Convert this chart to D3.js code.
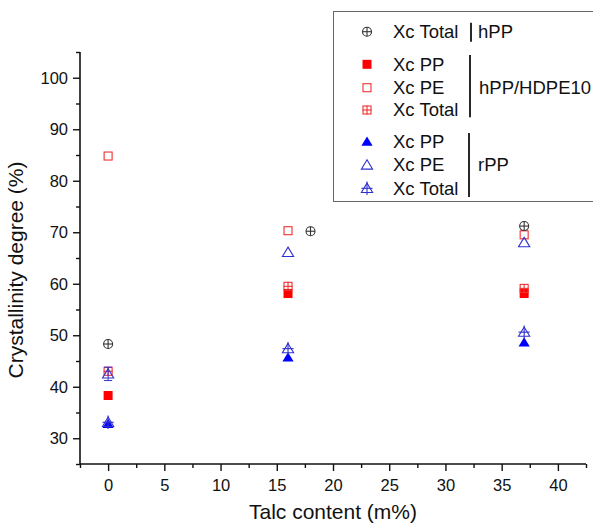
<!DOCTYPE html>
<html>
<head>
<meta charset="utf-8">
<script src="https://cdn.jsdelivr.net/npm/d3@7"></script>
<style>
  html, body { margin: 0; padding: 0; background: #fff; }
  svg { display: block; font-family: "Liberation Sans", Arial, sans-serif; }
</style>
</head>
<body>
<svg id="chart" width="593" height="528"></svg>
<script>
// ---- data ----
const talcX = [0, 16, 37];
const hppX = [0, 18, 37];
const hppTotal = [48.3, 70.2, 71.2];
const blendPP = [38.3, 58.1, 58.1];
const blendPE = [84.8, 70.3, 69.5];
const blendTotal = [43.0, 59.5, 59.1];
const rppPP = [32.8, 45.7, 48.6];
const rppPE = [42.5, 66.1, 68.0];
const rppPEerr = [1.3, 0, 0];
const rppTotal = [33.1, 47.4, 50.6];
const xTicks = [0, 5, 10, 15, 20, 25, 30, 35, 40];
const yTicks = [30, 40, 50, 60, 70, 80, 90, 100];

const legendRows = [
  { label: "Xc Total", sym: "circlePlus", color: "#333" },
  { label: "Xc PP", sym: "squareFill", color: "#ff0000" },
  { label: "Xc PE", sym: "squareOpen", color: "#f03030" },
  { label: "Xc Total", sym: "squarePlus", color: "#f03030" },
  { label: "Xc PP", sym: "triFill", color: "#0000ff" },
  { label: "Xc PE", sym: "triOpen", color: "#3030d0" },
  { label: "Xc Total", sym: "triPlus", color: "#3030d0" }
];
const groupLabels = ["hPP", "hPP/HDPE10", "rPP"];

// ---- layout ----
const svg = d3.select("#chart");
const mLeft = 80, mRight = 586, mTop = 52, mBottom = 464;
const x = d3.scaleLinear().domain([-2.5, 42.5]).range([mLeft, mRight]);
const y = d3.scaleLinear().domain([25, 105]).range([mBottom, mTop]);

// axes
const xAxis = d3.axisBottom(x).tickValues(xTicks).tickSize(7).tickPadding(8).tickFormat(d3.format("d"));
const xMinor = d3.axisBottom(x).tickValues(d3.range(-2.5, 43, 5)).tickSize(4).tickFormat("");
const yAxis = d3.axisLeft(y).tickValues(yTicks).tickSize(7).tickPadding(5).tickFormat(d3.format("d"));
const yMinor = d3.axisLeft(y).tickValues(d3.range(25, 106, 10)).tickSize(4).tickFormat("");

function styleAxis(g) {
  g.select(".domain").remove();
  g.selectAll(".tick line").attr("stroke", "#111").attr("stroke-width", 1.4);
  g.selectAll(".tick text").attr("fill", "#111").style("font-size", "16.5px").style("font-family", '"Liberation Sans", Arial, sans-serif');
}
svg.append("g").attr("transform", `translate(0,${mBottom})`).call(xMinor).call(styleAxis);
svg.append("g").attr("transform", `translate(0,${mBottom})`).call(xAxis).call(styleAxis);
svg.append("g").attr("transform", `translate(${mLeft},0)`).call(yMinor).call(styleAxis);
svg.append("g").attr("transform", `translate(${mLeft},0)`).call(yAxis).call(styleAxis);
svg.append("line").attr("x1", mLeft).attr("x2", mRight).attr("y1", mBottom).attr("y2", mBottom).attr("stroke", "#111").attr("stroke-width", 1.6);
svg.append("line").attr("x1", mLeft).attr("x2", mLeft).attr("y1", mTop).attr("y2", mBottom).attr("stroke", "#111").attr("stroke-width", 1.6);

// axis titles
svg.append("text").attr("x", (mLeft + mRight) / 2).attr("y", 519).attr("text-anchor", "middle")
  .style("font-size", "21px").attr("fill", "#111").text("Talc content (m%)");
svg.append("text").attr("transform", `translate(23,270) rotate(-90)`).attr("text-anchor", "middle")
  .style("font-size", "21px").attr("fill", "#111").text("Crystallinity degree (%)");

// ---- symbols ----
function drawSymbol(g, sym, color, cx, cy) {
  const s = 4.5;
  const sw = 1.1;
  if (sym === "circlePlus") {
    g.append("circle").attr("cx", cx).attr("cy", cy).attr("r", s).attr("fill", "none").attr("stroke", color).attr("stroke-width", sw);
    g.append("line").attr("x1", cx - s).attr("x2", cx + s).attr("y1", cy).attr("y2", cy).attr("stroke", color).attr("stroke-width", sw);
    g.append("line").attr("x1", cx).attr("x2", cx).attr("y1", cy - s).attr("y2", cy + s).attr("stroke", color).attr("stroke-width", sw);
  } else if (sym === "squareFill") {
    g.append("rect").attr("x", cx - s).attr("y", cy - s).attr("width", 2 * s).attr("height", 2 * s).attr("fill", color);
  } else if (sym === "squareOpen" || sym === "squarePlus") {
    g.append("rect").attr("x", cx - s + 0.5).attr("y", cy - s + 0.5).attr("width", 2 * s - 1).attr("height", 2 * s - 1)
      .attr("fill", "none").attr("stroke", color).attr("stroke-width", sw);
    if (sym === "squarePlus") {
      g.append("line").attr("x1", cx - s).attr("x2", cx + s).attr("y1", cy).attr("y2", cy).attr("stroke", color).attr("stroke-width", sw);
      g.append("line").attr("x1", cx).attr("x2", cx).attr("y1", cy - s).attr("y2", cy + s).attr("stroke", color).attr("stroke-width", sw);
    }
  } else {
    const h = 5.2, w = 5.6;
    const pts = [[cx, cy - h], [cx + w, cy + h * 0.8], [cx - w, cy + h * 0.8]];
    const path = "M" + pts.map(p => p.join(",")).join("L") + "Z";
    if (sym === "triFill") {
      g.append("path").attr("d", path).attr("fill", color);
    } else {
      g.append("path").attr("d", path).attr("fill", "none").attr("stroke", color).attr("stroke-width", sw);
      if (sym === "triPlus") {
        g.append("line").attr("x1", cx).attr("x2", cx).attr("y1", cy - h - 1.5).attr("y2", cy + h + 1.5).attr("stroke", color).attr("stroke-width", sw);
        g.append("line").attr("x1", cx - w).attr("x2", cx + w).attr("y1", cy).attr("y2", cy).attr("stroke", color).attr("stroke-width", sw);
      }
    }
  }
}

const marks = svg.append("g");
function series(xs, ys, sym, color, errs) {
  xs.forEach((xv, i) => {
    if (errs && errs[i] > 0) {
      const cx = x(xv);
      const y1 = y(ys[i] - errs[i]), y2 = y(ys[i] + errs[i]);
      marks.append("line").attr("x1", cx).attr("x2", cx).attr("y1", y1).attr("y2", y2).attr("stroke", color).attr("stroke-width", 1);
      [y1, y2].forEach(yy => marks.append("line").attr("x1", cx - 4).attr("x2", cx + 4).attr("y1", yy).attr("y2", yy).attr("stroke", color).attr("stroke-width", 1));
    }
    drawSymbol(marks, sym, color, x(xv), y(ys[i]));
  });
}
series(talcX, blendPP, "squareFill", "#ff0000");
series(talcX, rppPP, "triFill", "#0000ff");
series(talcX, blendTotal, "squarePlus", "#f03030");
series(talcX, blendPE, "squareOpen", "#f03030");
series(talcX, rppPE, "triOpen", "#3030d0", rppPEerr);
series(talcX, rppTotal, "triPlus", "#3030d0");
series(hppX, hppTotal, "circlePlus", "#333");

// ---- legend ----
const lg = svg.append("g");
lg.append("rect").attr("x", 333.5).attr("y", 11.5).attr("width", 280).attr("height", 190)
  .attr("fill", "#fff").attr("stroke", "#666").attr("stroke-width", 1);
const rowY = [31.7, 64.3, 87.7, 110, 141.7, 165, 188.3];
legendRows.forEach((r, i) => {
  drawSymbol(lg, r.sym, r.color, 367, rowY[i]);
  lg.append("text").attr("x", 393).attr("y", rowY[i]).attr("dy", "0.35em")
    .style("font-size", "18.5px").attr("fill", "#111").text(r.label);
});
const bars = [[22.7, 41.7, 471], [55, 117.3, 470], [133, 197, 469]];
const labelY = [31.7, 87.7, 165];
const labelX = [478, 479, 478];
bars.forEach((b, i) => {
  lg.append("line").attr("x1", b[2]).attr("x2", b[2]).attr("y1", b[0]).attr("y2", b[1]).attr("stroke", "#111").attr("stroke-width", 1.8);
  lg.append("text").attr("x", labelX[i]).attr("y", labelY[i]).attr("dy", "0.35em")
    .style("font-size", "18.5px").attr("fill", "#111").text(groupLabels[i]);
});
</script>
</body>
</html>
